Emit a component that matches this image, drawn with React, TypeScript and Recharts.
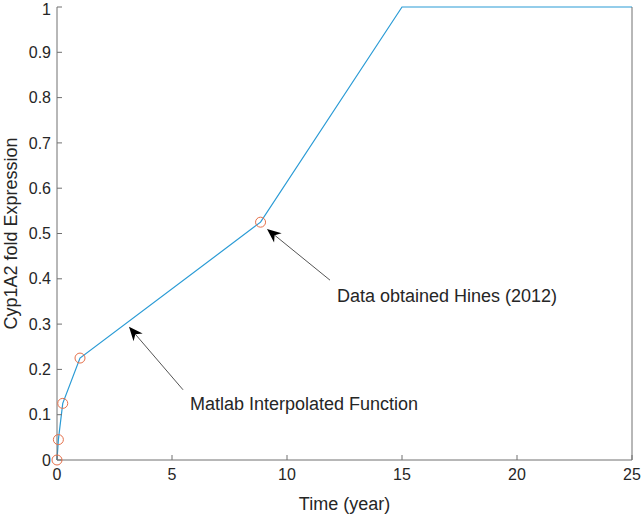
import React from "react";
import {
  ComposedChart,
  Line,
  Scatter,
  XAxis,
  YAxis,
  ReferenceLine,
  ReferenceDot,
} from "recharts";

// interpolated curve (MATLAB interp1 output)
const timeYears = [0, 0.06, 0.25, 1, 8.85, 15, 25];
const foldExpression = [0, 0.045, 0.125, 0.225, 0.525, 1, 1];

// measured points (Hines 2012)
const hinesTime = [0, 0.06, 0.25, 1, 8.85];
const hinesFold = [0, 0.045, 0.125, 0.225, 0.525];

const xTicks = [0, 5, 10, 15, 20, 25];
const yTicks = [0, 0.1, 0.2, 0.3, 0.4, 0.5, 0.6, 0.7, 0.8, 0.9, 1];

// annotation arrows, in data units
const hinesArrowTail = { x: 11.87, y: 0.397 };
const hinesArrowTip = { x: 9.13, y: 0.51 };
const hinesText = { x: 12.17, y: 0.362, text: "Data obtained Hines (2012)" };
const interpArrowTail = { x: 5.48, y: 0.155 };
const interpArrowTip = { x: 3.13, y: 0.294 };
const interpText = { x: 5.78, y: 0.124, text: "Matlab Interpolated Function" };

const curveData = timeYears.map((t, i) => ({ t, v: foldExpression[i] }));
const pointData = hinesTime.map((t, i) => ({ t, v: hinesFold[i] }));

const FONT = "'Liberation Sans', Arial, sans-serif";
const AXIS = "#707070";
const TEXT = "#262626";

function Arrow(props: any) {
  const { x1, y1, x2, y2 } = props;
  const dx = x2 - x1;
  const dy = y2 - y1;
  const len = Math.sqrt(dx * dx + dy * dy) || 1;
  const ux = dx / len;
  const uy = dy / len;
  const L = 14;
  const W = 6;
  const bx = x2 - ux * L;
  const by = y2 - uy * L;
  const nx = x2 - ux * L * 0.7;
  const ny = y2 - uy * L * 0.7;
  const pts = [
    [x2, y2],
    [bx - uy * W, by + ux * W],
    [nx, ny],
    [bx + uy * W, by - ux * W],
  ]
    .map((p) => p.join(","))
    .join(" ");
  return (
    <g>
      <line x1={x1} y1={y1} x2={nx} y2={ny} stroke="#555" strokeWidth={1} />
      <polygon points={pts} fill="#000" />
    </g>
  );
}

const annotationText = (text: string) => (p: any) => (
  <text
    x={p.cx}
    y={p.cy}
    dominantBaseline="central"
    fontFamily={FONT}
    fontSize={18}
    fill={TEXT}
  >
    {text}
  </text>
);

const XLabel = (p: any) => {
  const vb = p.viewBox;
  return (
    <text x={vb.x + vb.width / 2} y={510} textAnchor="middle" fontFamily={FONT} fontSize={18} fill={TEXT}>
      Time (year)
    </text>
  );
};

const YLabel = (p: any) => {
  const vb = p.viewBox;
  const cy = vb.y + vb.height / 2;
  return (
    <text
      x={11}
      y={cy}
      transform={`rotate(-90, 11, ${cy})`}
      textAnchor="middle"
      dominantBaseline="central"
      fontFamily={FONT}
      fontSize={18}
      fill={TEXT}
    >
      Cyp1A2 fold Expression
    </text>
  );
};

export default function App() {
  const tickStyle = { fill: TEXT, fontSize: 16, fontFamily: FONT };
  return (
    <div style={{ position: "absolute", left: 0, top: 0, background: "#fff" }}>
      <ComposedChart
        width={643}
        height={518}
        margin={{ top: 7, right: 10, left: 0, bottom: 0 }}
      >
        <XAxis
          dataKey="t"
          type="number"
          domain={[0, 25]}
          ticks={xTicks}
          tick={tickStyle}
          tickSize={-5}
          tickMargin={14}
          stroke={AXIS}
          height={58}
          label={<XLabel />}
        />
        <XAxis
          xAxisId="top"
          orientation="top"
          type="number"
          domain={[0, 25]}
          ticks={xTicks}
          tick={false}
          tickSize={-5}
          stroke={AXIS}
          height={0}
        />
        <YAxis
          dataKey="v"
          type="number"
          domain={[0, 1]}
          ticks={yTicks}
          tick={tickStyle}
          tickSize={-5}
          tickMargin={11}
          stroke={AXIS}
          width={57}
          label={<YLabel />}
        />
        <YAxis
          yAxisId="right"
          orientation="right"
          type="number"
          domain={[0, 1]}
          ticks={yTicks}
          tick={false}
          tickSize={-5}
          stroke={AXIS}
          width={1}
        />
        <Line
          data={curveData}
          dataKey="v"
          type="linear"
          stroke="#2a9bd5"
          strokeWidth={1.2}
          dot={false}
          activeDot={false}
          isAnimationActive={false}
        />
        <Scatter
          data={pointData}
          dataKey="v"
          isAnimationActive={false}
          shape={(p: any) => (
            <circle cx={p.cx} cy={p.cy} r={5} fill="none" stroke="#e5704a" strokeWidth={1} />
          )}
        />
        <ReferenceLine
          segment={[hinesArrowTail, hinesArrowTip]}
          shape={Arrow}
          ifOverflow="visible"
        />
        <ReferenceLine
          segment={[interpArrowTail, interpArrowTip]}
          shape={Arrow}
          ifOverflow="visible"
        />
        <ReferenceDot x={hinesText.x} y={hinesText.y} r={0} shape={annotationText(hinesText.text)} ifOverflow="visible" />
        <ReferenceDot x={interpText.x} y={interpText.y} r={0} shape={annotationText(interpText.text)} ifOverflow="visible" />
      </ComposedChart>
    </div>
  );
}
